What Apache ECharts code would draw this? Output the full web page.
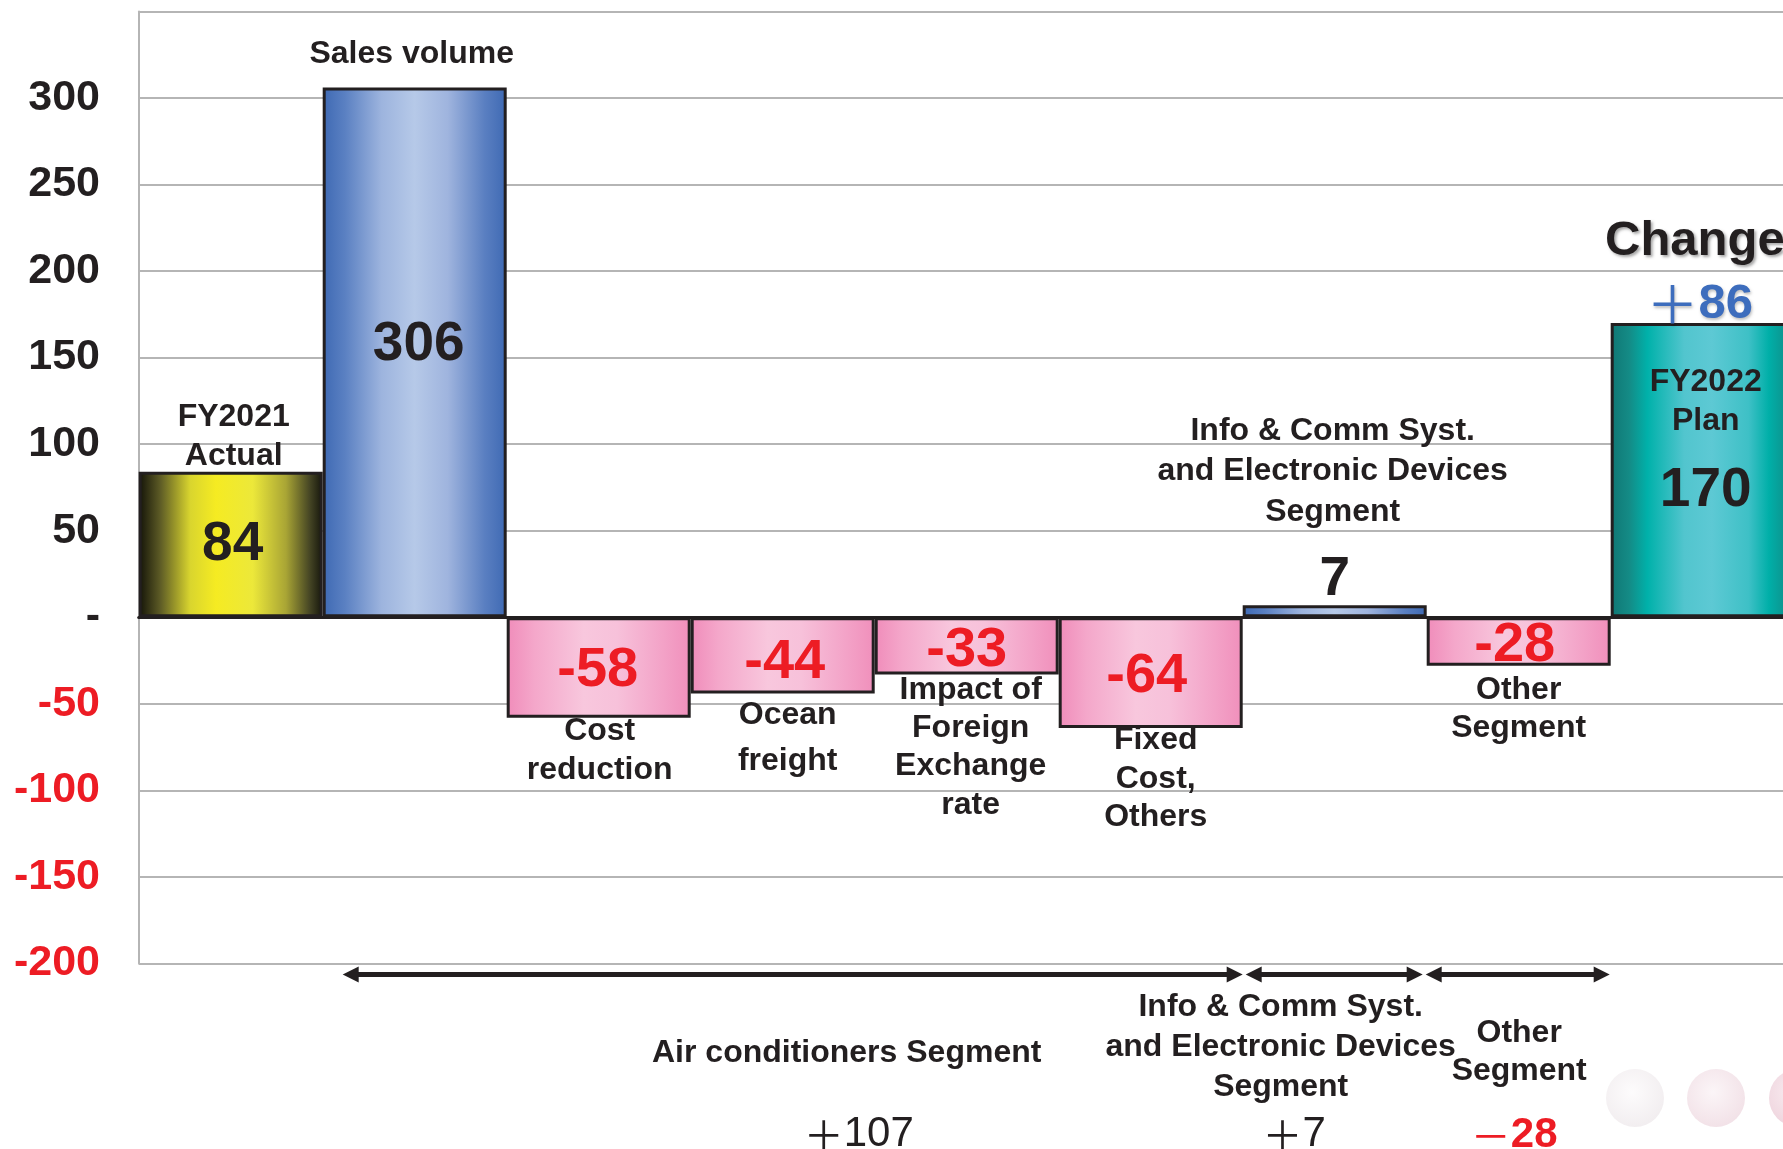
<!DOCTYPE html>
<html>
<head>
<meta charset="utf-8">
<script src="https://cdn.jsdelivr.net/npm/echarts@6/dist/echarts.min.js"></script>
<style>
  html, body { margin: 0; padding: 0; background: #ffffff; }
  #chart { width: 1783px; height: 1149px; }
</style>
</head>
<body>
<div id="chart"></div>
<script>
// ---- Data -------------------------------------------------------------
const categories = [
  'FY2021 Actual', 'Sales volume', 'Cost reduction', 'Ocean freight',
  'Impact of Foreign Exchange rate', 'Fixed Cost, Others',
  'Info & Comm Syst. and Electronic Devices Segment', 'Other Segment', 'FY2022 Plan'
];
const values = [84, 306, -58, -44, -33, -64, 7, -28, 170];
const categoryLines = [
  ['FY2021', 'Actual'], ['Sales volume'], ['Cost', 'reduction'], ['Ocean', 'freight'],
  ['Impact of', 'Foreign', 'Exchange', 'rate'], ['Fixed', 'Cost,', 'Others'],
  ['Info & Comm Syst.', 'and Electronic Devices', 'Segment'], ['Other', 'Segment'],
  ['FY2022', 'Plan']
];
const yMin = -200;
const yMax = 350;
const yStep = 50;

// Segment groupings under the axis (first / last category index of each)
const segmentNames = [
  ['Air conditioners Segment'],
  ['Info & Comm Syst.', 'and Electronic Devices', 'Segment'],
  ['Other', 'Segment']
];
const segmentFirst = [1, 6, 7];
const segmentLast = [5, 6, 7];
const changeTitle = 'Change';

// ---- Styling / layout ---------------------------------------------------
const FONT = '"Liberation Sans", Arial, Helvetica, sans-serif';
const CJK = '"Noto Sans CJK JP", "Noto Sans", sans-serif';
const INK = '#231f20';
const RED = '#ed1c24';
const BLUE_TEXT = '#3d6dbd';

const grad = (stops) => new echarts.graphic.LinearGradient(0, 0, 1, 0,
  stops.map(([offset, color]) => ({ offset, color })));

const fills = {
  start: grad([[0, '#121208'], [0.12, '#5f5d26'], [0.28, '#d9d52e'], [0.42, '#f5eb22'],
               [0.62, '#ece83a'], [0.8, '#a9a535'], [0.93, '#454524'], [1, '#15150c']]),
  up:    grad([[0, '#3e69b3'], [0.12, '#5a80c2'], [0.32, '#9db4de'], [0.5, '#b6c9e8'],
               [0.68, '#9fb4de'], [0.88, '#5a7fc1'], [1, '#3e69b3']]),
  down:  grad([[0, '#f08cba'], [0.15, '#f4a7ca'], [0.42, '#f8c7dd'], [0.6, '#f7c1da'],
               [0.85, '#f3a2c7'], [1, '#f08fbb']]),
  end:   grad([[0, '#107774'], [0.1, '#148b86'], [0.2, '#00b1aa'], [0.4, '#52c5ce'],
               [0.55, '#5dc9d4'], [0.75, '#3ec0c6'], [0.86, '#00afa8'], [1, '#138580']])
};
const fillFor = (v, i) => i === 0 ? fills.start
  : i === values.length - 1 ? fills.end
  : v >= 0 ? fills.up : fills.down;

// value label placement: offsets from the bar centre
const valueLabelLayout = [
  { dx: 2, dy: 0 }, { dx: 4, dy: -8 }, { dx: -1, dy: 3 }, { dx: 2, dy: 7 },
  { dx: 0, dy: 5 }, { dx: -4, dy: 4 }, { dx: 0, dy: -31 }, { dx: -4, dy: 4.5 },
  { dx: 3, dy: 21 }
];
// category caption placement: relative to the bar's top or bottom edge
const nameLayout = [
  { edge: 'top', dx: 3, dy: -35, lh: 39 },
  { edge: 'top', dx: -3, dy: -33, lh: 39 },
  { edge: 'bottom', dx: 1, dy: 33, lh: 39 },
  { edge: 'bottom', dx: 5, dy: 44.5, lh: 46 },
  { edge: 'bottom', dx: 4, dy: 73, lh: 38.3 },
  { edge: 'bottom', dx: 5, dy: 50.7, lh: 38.3 },
  { edge: 'top', dx: -2, dy: -133.5, lh: 40.5 },
  { edge: 'bottom', dx: 0, dy: 43.7, lh: 38 },
  { edge: 'top', dx: 3, dy: 78.5, lh: 38.5 }
];
// bracket arrows and captions under the plot
const segmentLayout = [
  { padL: 20, padR: 0, nameDx: 54, nameDy: 89.5, lh: 40, totalDx: 66, totalDy: 171 },
  { padL: 3, padR: 4, nameDx: -53.5, nameDy: 84, lh: 40, totalDx: -40, totalDy: 171 },
  { padL: -1, padR: 1, nameDx: 1.5, nameDy: 88.5, lh: 38.5, totalDx: -3.5, totalDy: 172 }
];

const segmentTotal = (k) => values
  .slice(segmentFirst[k], segmentLast[k] + 1)
  .reduce((a, b) => a + b, 0);

// ---- Chart ----------------------------------------------------------------
const chart = echarts.init(document.getElementById('chart'), null, { renderer: 'canvas' });

const barData = values.map((v, i) => ({
  value: v,
  itemStyle: { color: fillFor(v, i) },
  label: {
    show: true,
    position: 'inside',
    offset: [valueLabelLayout[i].dx, valueLabelLayout[i].dy],
    color: v < 0 ? RED : INK,
    fontSize: v < 0 ? 56 : 55,
    fontWeight: 'bold',
    fontFamily: FONT
  }
}));

const option = {
  backgroundColor: '#ffffff',
  animation: false,
  // the plot runs past the right edge of the page, so the last bar is cropped
  grid: {
    left: 138.7, width: 1656, top: 11.4, height: 952.1,
    containLabel: false, outerBoundsMode: 'none'
  },
  xAxis: {
    type: 'category',
    data: categories,
    axisTick: { show: false },
    axisLabel: { show: false },
    axisLine: { onZero: true, lineStyle: { color: INK, width: 3 } },
    splitLine: { show: false }
  },
  yAxis: {
    type: 'value',
    min: yMin,
    max: yMax,
    interval: yStep,
    axisLine: { show: true, lineStyle: { color: '#b5b5b5', width: 2 } },
    axisTick: { show: false },
    splitLine: { show: true, lineStyle: { color: '#b5b5b5', width: 2 } },
    axisLabel: {
      margin: 38.7,
      fontSize: 43,
      fontWeight: 'bold',
      fontFamily: FONT,
      color: (v) => (Number(v) < 0 ? RED : INK),
      formatter: (v) => (v === 0 ? '-' : v === yMax ? '' : String(v))
    }
  },
  graphic: [
    {
      type: 'text', left: 1605, top: 217, z: 10,
      style: {
        text: changeTitle, fontSize: 49, fontWeight: 'bold', fontFamily: FONT, fill: INK,
        textShadowColor: 'rgba(0,0,0,0.35)', textShadowBlur: 3, textShadowOffsetX: 2, textShadowOffsetY: 2
      }
    },
    // soft decorative spheres, lower right
    { type: 'circle', shape: { cx: 1635, cy: 1098, r: 29 }, z: 0, silent: true,
      style: { fill: new echarts.graphic.RadialGradient(0.45, 0.4, 0.65,
        [{ offset: 0, color: '#fcfafb' }, { offset: 1, color: '#ebe5e8' }]), opacity: 0.7 } },
    { type: 'circle', shape: { cx: 1716, cy: 1098, r: 29 }, z: 0, silent: true,
      style: { fill: new echarts.graphic.RadialGradient(0.45, 0.4, 0.65,
        [{ offset: 0, color: '#faf2f5' }, { offset: 1, color: '#edd6de' }]), opacity: 0.75 } },
    { type: 'circle', shape: { cx: 1798, cy: 1098, r: 29 }, z: 0, silent: true,
      style: { fill: new echarts.graphic.RadialGradient(0.45, 0.4, 0.65,
        [{ offset: 0, color: '#f8e9ee' }, { offset: 1, color: '#eac8d4' }]), opacity: 0.8 } }
  ],
  series: [
    {
      name: 'Operating income',
      type: 'bar',
      data: barData,
      barWidth: '100%',
      barCategoryGap: 0,
      itemStyle: { borderColor: INK, borderWidth: 3 },
      z: 3
    },
    {
      // category captions next to each bar
      name: 'Captions',
      type: 'custom',
      clip: false,
      silent: true,
      z: 5,
      data: values.map((v, i) => [i, v]),
      renderItem: (params, api) => {
        const i = api.value(0);
        const v = api.value(1);
        const L = nameLayout[i];
        const edgeVal = L.edge === 'top' ? Math.max(v, 0) : Math.min(v, 0);
        const p = api.coord([i, edgeVal]);
        return {
          type: 'text',
          x: p[0] + L.dx,
          y: p[1] + L.dy,
          style: {
            text: categoryLines[i].join('\n'),
            align: 'center', verticalAlign: 'middle',
            lineHeight: L.lh, fontSize: 32, fontWeight: 'bold', fontFamily: FONT, fill: INK
          }
        };
      }
    },
    {
      // overall change above the plan bar
      name: 'Change',
      type: 'custom',
      clip: false,
      silent: true,
      z: 6,
      data: [[values.length - 1, values[values.length - 1], values[values.length - 1] - values[0]]],
      renderItem: (params, api) => {
        const p = api.coord([api.value(0), api.value(1)]);
        const d = api.value(2);
        return {
          type: 'text',
          x: p[0] - 3,
          y: p[1] - 19,
          style: {
            text: '{s|' + (d >= 0 ? '＋' : '－') + '}{n|' + Math.abs(d) + '}',
            align: 'center', verticalAlign: 'middle',
            rich: {
              s: { fontSize: 52, fontFamily: CJK, fontWeight: 'normal', fill: BLUE_TEXT },
              n: { fontSize: 49, fontFamily: FONT, fontWeight: 'bold', fill: BLUE_TEXT }
            },
            textShadowColor: 'rgba(0,0,0,0.25)', textShadowBlur: 3, textShadowOffsetX: 1, textShadowOffsetY: 2
          }
        };
      }
    },
    {
      // segment brackets and totals beneath the plot
      name: 'Segments',
      type: 'custom',
      clip: false,
      silent: true,
      z: 6,
      data: segmentFirst.map((f, k) => [f, segmentLast[k], k]),
      renderItem: (params, api) => {
        const k = api.value(2);
        const L = segmentLayout[k];
        const w = api.size([1, 0])[0];
        const x0 = api.coord([api.value(0), 0])[0] - w / 2 + L.padL;
        const x1 = api.coord([api.value(1), 0])[0] + w / 2 - L.padR;
        const base = params.coordSys.y + params.coordSys.height;
        const ya = base + 11;
        const head = 16, half = 8;
        const xc = (x0 + x1) / 2;
        const total = segmentTotal(k);
        const col = total < 0 ? RED : INK;
        return {
          type: 'group',
          children: [
            { type: 'line', shape: { x1: x0 + head - 2, y1: ya, x2: x1 - head + 2, y2: ya },
              style: { stroke: INK, lineWidth: 5 } },
            { type: 'polygon', shape: { points: [[x0, ya], [x0 + head, ya - half], [x0 + head, ya + half]] },
              style: { fill: INK } },
            { type: 'polygon', shape: { points: [[x1, ya], [x1 - head, ya - half], [x1 - head, ya + half]] },
              style: { fill: INK } },
            { type: 'text', x: xc + L.nameDx, y: base + L.nameDy,
              style: { text: segmentNames[k].join('\n'), align: 'center', verticalAlign: 'middle',
                       lineHeight: L.lh, fontSize: 32, fontWeight: 'bold', fontFamily: FONT, fill: INK } },
            { type: 'text', x: xc + L.totalDx, y: base + L.totalDy,
              style: {
                text: '{s|' + (total >= 0 ? '＋' : '－') + '}{n|' + Math.abs(total) + '}',
                align: 'center', verticalAlign: 'middle',
                rich: {
                  s: { fontSize: 40, fontFamily: CJK, fontWeight: 'normal', fill: col },
                  n: { fontSize: 42, fontFamily: FONT, fontWeight: total < 0 ? 'bold' : 'normal', fill: col }
                }
              } }
          ]
        };
      }
    }
  ]
};

chart.setOption(option);
</script>
</body>
</html>
